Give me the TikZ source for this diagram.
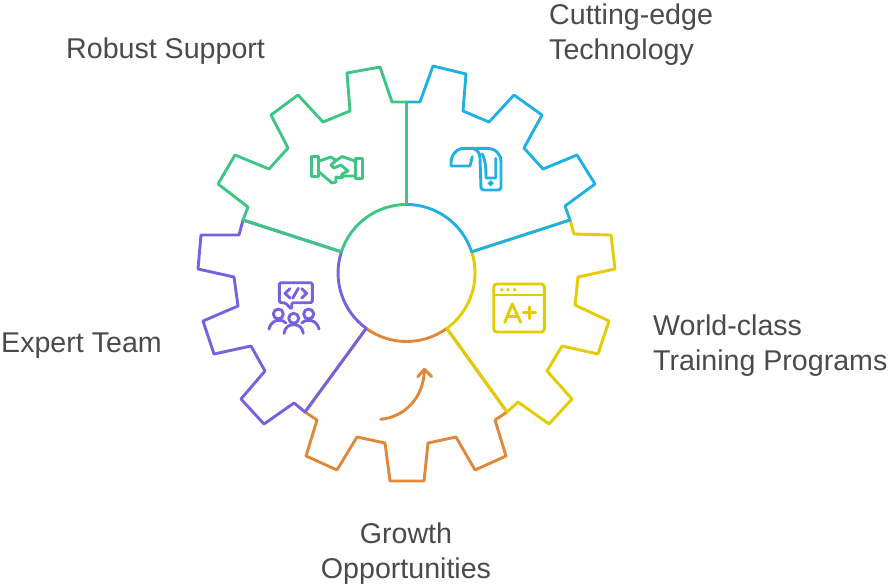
\documentclass[tikz,border=0pt]{standalone}
\usepackage{fontspec}
\setmainfont{Liberation Sans}
\usepackage{tikz}
\usetikzlibrary{positioning}

\definecolor{gearGreen}{HTML}{3CC583}
\definecolor{gearBlue}{HTML}{1EB1E2}
\definecolor{gearYellow}{HTML}{E5CC00}
\definecolor{gearOrange}{HTML}{E0873A}
\definecolor{gearPurple}{HTML}{7562E0}
\definecolor{labelGrey}{HTML}{4A4A4A}

\begin{document}
\begin{tikzpicture}[
  x=1pt, y=-1pt,
  sector/.style={line width=2.9pt, line join=round},
  icon/.style={line width=2.9pt, line join=round, line cap=round},
  label/.style={anchor=north west, inner sep=0pt, align=left, text=labelGrey,
    font=\fontsize{28.6}{34.6}\selectfont}
]
\useasboundingbox (0,0) rectangle (889,587);

% Orange sector
\draw[sector, gearOrange] (507,412) -- (495,420) -- (506,456) -- (475,470) -- (456,437) -- (428,443)
  -- (424,481) -- (390,481) -- (385,443) -- (357,437) -- (337,470) -- (306,456) -- (317,420) -- (305,412)
  -- (366.2,328.4) arc[start angle=126, end angle=54, radius=68.5] -- cycle;

% Yellow sector
\draw[sector, gearYellow] (570,220) -- (574,234) -- (611,235) -- (615,269) -- (578,277) -- (575,305)
  -- (609,321) -- (598,354) -- (562,346) -- (547,371) -- (572,399) -- (549,424) -- (518,402) -- (507,412)
  -- (446.8,328.4) arc[start angle=54, end angle=-18, radius=68.5] -- cycle;

% Purple sector
\draw[sector, gearPurple] (305,412) -- (294,403) -- (264,424) -- (241,399) -- (265,371) -- (251,346)
  -- (214,354) -- (203,321) -- (238,306) -- (234,277) -- (198,269) -- (201,235) -- (239,235) -- (243,220)
  -- (341.4,251.8) arc[start angle=198, end angle=126, radius=68.5] -- cycle;

% Blue sector
\draw[sector, gearBlue] (406.5,102) -- (420,102) -- (433,66) -- (466,74) -- (463,111) -- (489,122)
  -- (514,95) -- (542,115) -- (524,148) -- (543,169) -- (577,155) -- (595,184) -- (565,206) -- (570,220)
  -- (471.6,251.8) arc[start angle=-18, end angle=-90, radius=68.5] -- cycle;

% Green sector
\draw[sector, gearGreen] (406.5,204.5) -- (406.5,102) -- (392,102) -- (380,67) -- (347,73) -- (350,111)
  -- (323,122) -- (298,95) -- (271,115) -- (288,148) -- (269,169) -- (235,155) -- (218,184) -- (248,207)
  -- (243,220) -- (341.4,251.8) arc[start angle=198, end angle=270, radius=68.5];

% Handshake
\draw[icon, gearGreen] (311.7,156.7) rectangle (318.3,176.7);
\draw[icon, gearGreen] (355.7,158.3) rectangle (362.3,178.3);
\draw[icon, gearGreen] (319,161) -- (331,157) -- (336,160.5) -- (331,165) -- (334,168) -- (341,165)
  -- (348,171) -- (342,174) -- (341,178) -- (336,177) -- (336,182) -- (332,183) -- (319,172);
\draw[icon, gearGreen] (336,160.5) -- (342,156.5) -- (355,161);
\draw[icon, gearGreen] (355,176) -- (344,176) -- (341,178);

% Tablet band
\draw[icon, gearBlue] (472.3,156.7) -- (470,166) -- (451,166) .. controls (450,156) and (456,148.3) .. (464,148.3)
  -- (486,148.3) .. controls (496,148.3) and (501,154) .. (501,162) -- (501,188) -- (499,190) -- (483,190) -- (481,188)
  -- (480,158) .. controls (480,153) and (477,149) .. (472,148.3);
\draw[icon, gearBlue] (482.3,154) .. controls (485,160) and (486,165) .. (486,178) -- (495.7,178) -- (495.7,158.3);
\draw[gearBlue, line width=2pt] (490.7,183.3) circle[radius=1.8];

% Team with code bubble
\draw[icon, gearPurple, rounded corners=1.5pt] (285,302.7) -- (279.3,302.7) -- (279.3,282.7) -- (312.3,282.7)
  -- (312.3,302.7) -- (291.7,302.7) -- (291.7,309.3) -- cycle;
\draw[icon, gearPurple] (290,288.7) -- (285,293.3) -- (290,298);
\draw[icon, gearPurple] (301.7,288.7) -- (306.7,293.3) -- (301.7,298);
\draw[icon, gearPurple] (298.3,288.3) -- (292.7,298.3);
\draw[icon, gearPurple] (278.3,314) circle[radius=5];
\draw[icon, gearPurple] (293.7,318.3) circle[radius=5];
\draw[icon, gearPurple] (308.7,314) circle[radius=5];
\draw[icon, gearPurple] (269,329) .. controls (271,322) and (275,320.3) .. (279,320.3) .. controls (282,320.3) and (284,321) .. (286,323);
\draw[icon, gearPurple] (284,333.3) .. controls (285,327) and (289,324.7) .. (293.7,324.7) .. controls (298.4,324.7) and (302.4,327) .. (303.3,333.3);
\draw[icon, gearPurple] (301.7,323) .. controls (303.7,321) and (305.7,320.3) .. (308.7,320.3) .. controls (312.7,320.3) and (317,322) .. (319,329);

% Grade window
\draw[icon, gearYellow, rounded corners=3pt] (493.7,284) rectangle (544.3,332);
\draw[icon, gearYellow] (493.7,295) -- (544.3,295);
\foreach \dotx in {501.7,508,514.7}
  \fill[gearYellow] (\dotx,289.7) circle[radius=1.9];
\draw[icon, gearYellow] (504.7,322.3) -- (512.3,304) -- (520.7,322.3);
\draw[icon, gearYellow] (507.3,316.7) -- (518,316.7);
\draw[icon, gearYellow] (523.3,312.7) -- (535.3,312.7);
\draw[icon, gearYellow] (529.3,306.7) -- (529.3,318.7);

% Growth arrow
\draw[icon, gearOrange] (380.7,419.3) .. controls (405,417) and (424,397) .. (424.3,370);
\draw[icon, gearOrange] (417.7,376.7) -- (424.3,369.3) -- (431.7,376.7);

% Labels
\node[label] (robust) at (66,38) {Robust Support};
\node[label] (technology) at (549,4) {Cutting-edge\\Technology};
\node[label] (training) at (653,315) {World-class\\Training Programs};
\node[label] (team) at (1,333) {Expert Team};
\node[label, anchor=north, align=center] (growth) at (406,523) {Growth\\Opportunities};

\end{tikzpicture}
\end{document}
